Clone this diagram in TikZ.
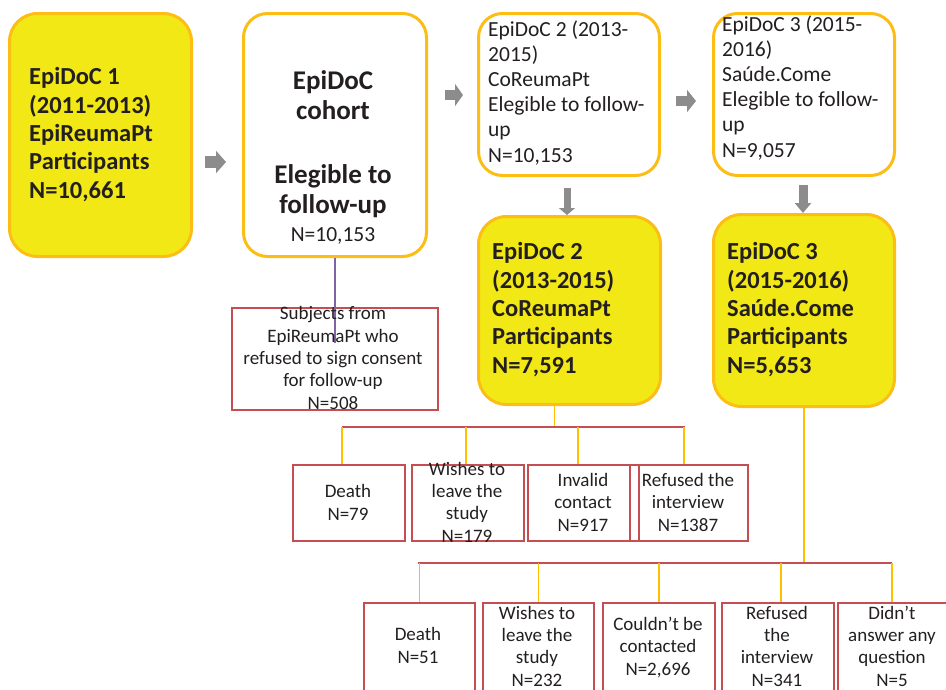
\documentclass[tikz,border=0pt]{standalone}
\usepackage{fontspec}
\setmainfont{Carlito}
\usetikzlibrary{arrows.meta}
\definecolor{lemon}{RGB}{242,232,22}
\definecolor{amber}{RGB}{252,190,20}
\definecolor{brick}{RGB}{196,78,82}
\definecolor{dropc}{RGB}{255,192,0}
\definecolor{arrowgray}{RGB}{140,140,140}
\definecolor{lilac}{RGB}{128,100,162}
\definecolor{ink}{RGB}{35,31,32}
% Multi-line text nodes are placed by the baseline of their last line.
\tikzset{
  stage/.style={draw=amber, line width=3pt, rounded corners=28pt, fill=lemon,
    anchor=north west, inner sep=0pt},
  elig/.style={stage, fill=white, rounded corners=24pt},
  lossbox/.style={draw=brick, line width=1.6pt, anchor=north west, inner sep=0pt},
  boldtxt/.style={font=\bfseries\fontsize{24.5}{28.3}\selectfont, text=ink,
    align=left, anchor=base west, inner sep=0pt},
  cohtxt/.style={font=\bfseries\fontsize{27}{30}\selectfont, text=ink,
    align=center, anchor=base, inner sep=0pt},
  plaintxt/.style={font=\fontsize{21.5}{25.2}\selectfont, text=ink,
    align=left, anchor=base west, inner sep=0pt},
  losstxt/.style={font=\fontsize{19}{22.3}\selectfont, text=ink,
    align=center, anchor=base, inner sep=0pt},
  blockarrow/.style={draw=arrowgray, line width=#1},
  redbar/.style={draw=brick, line width=1.5pt},
  dropline/.style={draw=dropc, line width=1.5pt},
}
\begin{document}
\begin{tikzpicture}[x=1pt,y=-1pt]
\useasboundingbox (0,0) rectangle (946,689);
\clip (0,0) rectangle (946,689);

% ---- stage boxes ----
\node[stage, minimum width=182pt, minimum height=243pt] (e1) at (8,12) {};
\node[elig, minimum width=183pt, minimum height=243pt] (coh) at (242,12) {};
\node[elig, minimum width=181pt, minimum height=162pt] (el2) at (477,12) {};
\node[elig, minimum width=181pt, minimum height=162pt] (el3) at (712,12) {};
\node[stage, minimum width=182pt, minimum height=188pt] (e2) at (477,215) {};
\node[stage, minimum width=181pt, minimum height=192pt] (e3) at (712,213) {};

\node[boldtxt] (e1t) at (29,198) {EpiDoC 1\\(2011-2013)\\EpiReumaPt\\Participants\\N=10,661};
\node[cohtxt] (coht1) at (333,119) {EpiDoC\\cohort};
\node[cohtxt] (coht2) at (333,213) {Elegible to\\follow-up};
\node[font=\fontsize{21.5}{25}\selectfont, text=ink, anchor=base, inner sep=0pt] (coht3) at (333,241) {N=10,153};
\node[plaintxt] (el2t) at (488,162) {EpiDoC 2 (2013-\\2015)\\CoReumaPt\\Elegible to follow-\\up\\N=10,153};
\node[plaintxt] (el3t) at (722,157) {EpiDoC 3 (2015-\\2016)\\Saúde.Come\\Elegible to follow-\\up\\N=9,057};
\node[boldtxt] (e2t) at (492,373) {EpiDoC 2\\(2013-2015)\\CoReumaPt\\Participants\\N=7,591};
\node[boldtxt] (e3t) at (727,373) {EpiDoC 3\\(2015-2016)\\Saúde.Come\\Participants\\N=5,653};

% ---- block arrows between stages ----
\coordinate (a1s) at (205,162); \coordinate (a1e) at (226,162);
\coordinate (a2s) at (445,95);  \coordinate (a2e) at (463,95);
\coordinate (a3s) at (676,101); \coordinate (a3e) at (696,101);
\coordinate (a4s) at (567,188); \coordinate (a4e) at (567,215);
\coordinate (a5s) at (803,185); \coordinate (a5e) at (803,213);
\draw[blockarrow=12pt, -{Triangle[length=10pt,width=22pt]}, arrowgray] (a1s) -- (a1e);
\draw[blockarrow=10pt, -{Triangle[length=8pt,width=22pt]}, arrowgray] (a2s) -- (a2e);
\draw[blockarrow=10pt, -{Triangle[length=9pt,width=22pt]}, arrowgray] (a3s) -- (a3e);
\draw[blockarrow=7pt, -{Triangle[length=7pt,width=16pt]}, arrowgray] (a4s) -- (a4e);
\draw[blockarrow=9pt, -{Triangle[length=10pt,width=16pt]}, arrowgray] (a5s) -- (a5e);

% ---- refusal of consent ----
\node[lossbox, minimum width=206pt, minimum height=102pt] (rc) at (231,307) {};
\coordinate (rcend) at (333,343);
\draw[lilac, line width=1.2pt] (coh.south) -- (coh.south |- rcend);
\node[losstxt] (rct) at (333,409) {Subjects from\\EpiReumaPt who\\refused to sign consent\\for follow-up\\N=508};

% ---- losses after EpiDoC 2 ----
\node[lossbox, minimum width=112pt, minimum height=76pt] (d1) at (292,464) {};
\node[lossbox, minimum width=112pt, minimum height=76pt] (w1) at (411,464) {};
\node[lossbox, minimum width=111pt, minimum height=76pt] (i1) at (527,464) {};
\node[lossbox, minimum width=118pt, minimum height=76pt] (r1) at (629,464) {};
\node[losstxt] (d1t) at (348,520) {Death\\N=79};
\node[losstxt] (w1t) at (467,542) {Wishes to\\leave the\\study\\N=179};
\node[losstxt] (i1t) at (583,531) {Invalid\\contact\\N=917};
\node[losstxt] (r1t) at (688,531) {Refused the\\interview\\N=1387};

\coordinate (bar1L) at (342,427);
\coordinate (bar1R) at (685,427);
\draw[dropline] ([xshift=-15pt]e2.south) -- ([xshift=-15pt]e2.south |- bar1L);
\draw[redbar] (bar1L) -- (bar1R);
\draw[dropline] (bar1L) -- (bar1L |- d1.north);
\draw[dropline] ([xshift=-2pt]w1.north |- bar1L) -- ([xshift=-2pt]w1.north);
\draw[dropline] ([xshift=-5.5pt]i1.north |- bar1L) -- ([xshift=-5.5pt]i1.north);
\draw[dropline] ([xshift=-5pt]r1.north |- bar1L) -- ([xshift=-5pt]r1.north);

% ---- losses after EpiDoC 3 ----
\node[lossbox, minimum width=111pt, minimum height=110pt] (d2) at (363,602) {};
\node[lossbox, minimum width=111pt, minimum height=110pt] (w2) at (482,602) {};
\node[lossbox, minimum width=112pt, minimum height=110pt] (c2) at (602,602) {};
\node[lossbox, minimum width=112pt, minimum height=110pt] (r2) at (721,602) {};
\node[lossbox, minimum width=112pt, minimum height=110pt] (n2) at (837,602) {};
\node[losstxt] (d2t) at (418,663) {Death\\N=51};
\node[losstxt] (w2t) at (537,686) {Wishes to\\leave the\\study\\N=232};
\node[losstxt] (c2t) at (658,675) {Couldn’t be\\contacted\\N=2,696};
\node[losstxt] (r2t) at (777,686) {Refused\\the\\interview\\N=341};
\node[losstxt] (n2t) at (892,686) {Didn’t\\answer any\\question\\N=5};

\coordinate (bar2L) at (418,563);
\coordinate (bar2R) at (892,563);
\draw[dropline] (e3.south) -- (e3.south |- bar2L);
\draw[redbar] (bar2L) -- (bar2R);
\draw[dropline] (d2.north |- bar2L) -- (d2.north);
\draw[dropline] (w2.north |- bar2L) -- (w2.north);
\draw[dropline] (c2.north |- bar2L) -- (c2.north);
\draw[dropline] ([xshift=3pt]r2.north |- bar2L) -- ([xshift=3pt]r2.north);
\draw[dropline] (bar2R) -- (bar2R |- n2.north);
\end{tikzpicture}
\end{document}
